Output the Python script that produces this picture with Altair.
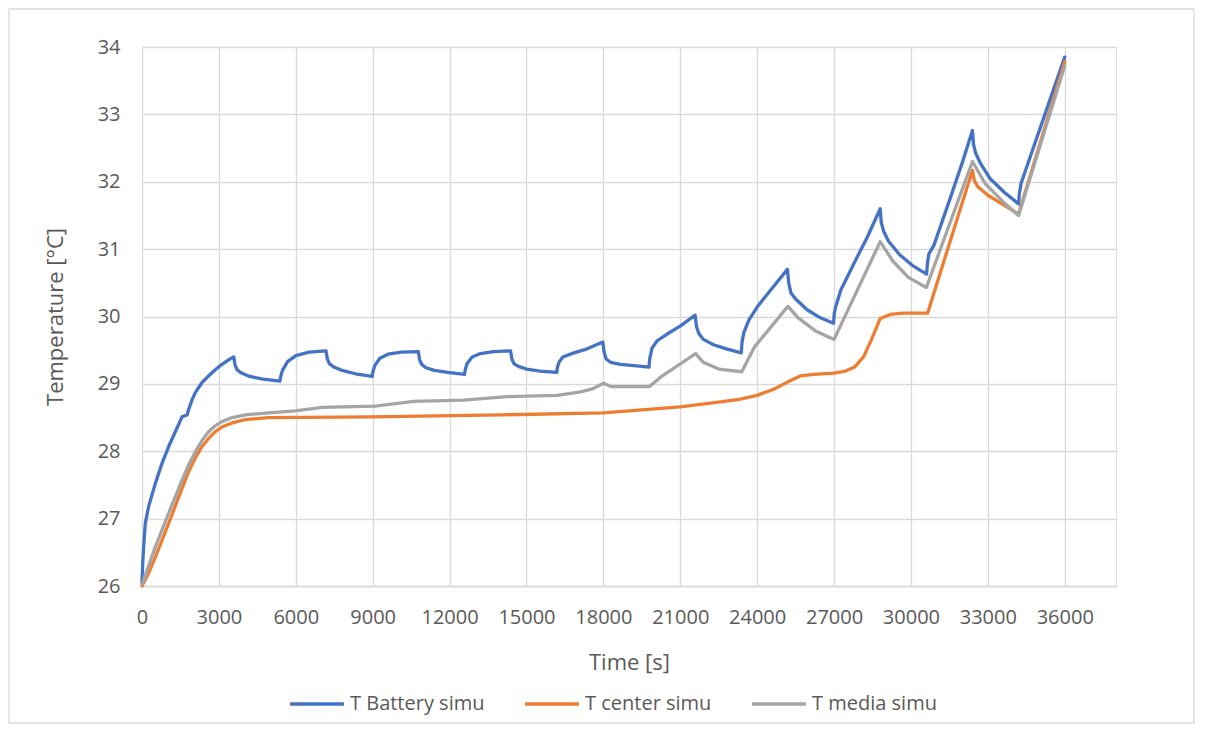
import altair as alt
import pandas as pd

series_names = ["T Battery simu", "T center simu", "T media simu"]
series_colors = ["#4472C4", "#ED7D31", "#A5A5A5"]

battery_t = [0, 30, 63, 129, 258, 519, 780, 1040, 1300, 1561, 1690, 1760, 1820, 1950, 2080, 2340, 2600, 2860,
             3120, 3350, 3580,
             3630, 3710, 3880, 4200, 4730, 5380,
             5410, 5480, 5680, 6000, 6520, 7180,
             7230, 7310, 7480, 7800, 8330, 8980,
             9010, 9080, 9280, 9600, 10120, 10780,
             10830, 10910, 11080, 11400, 11930, 12580,
             12610, 12680, 12880, 13200, 13720, 14380,
             14430, 14510, 14680, 15000, 15530, 16180,
             16210, 16280, 16420, 16850, 17370, 17980,
             18030, 18110, 18280, 18670, 19200, 19780,
             19810, 19900, 20100, 20490, 21010, 21580,
             21630, 21720, 21900, 22300, 22800, 23380,
             23410, 23480, 23680, 24000, 24520, 25180,
             25230, 25320, 25500, 25950, 26470, 26980,
             27010, 27060, 27260, 27780, 28300, 28800,
             28840, 28930, 29120, 29550, 30050, 30610,
             30640, 30700, 30900, 31500, 32000, 32400,
             32440, 32520, 32700, 33100, 33650, 34200,
             34230, 34300, 34500, 35200, 36000]
battery_T = [26.05, 26.35, 26.58, 26.93, 27.18, 27.52, 27.82, 28.07, 28.29, 28.51, 28.53, 28.54, 28.62, 28.76,
             28.87, 29.02, 29.12, 29.21, 29.29, 29.35, 29.40,
             29.28, 29.21, 29.16, 29.11, 29.07, 29.04,
             29.11, 29.20, 29.33, 29.42, 29.47, 29.49,
             29.37, 29.30, 29.25, 29.20, 29.15, 29.11,
             29.18, 29.27, 29.38, 29.44, 29.47, 29.48,
             29.36, 29.29, 29.24, 29.20, 29.17, 29.14,
             29.21, 29.30, 29.40, 29.45, 29.48, 29.49,
             29.37, 29.30, 29.26, 29.22, 29.19, 29.17,
             29.25, 29.33, 29.40, 29.46, 29.52, 29.62,
             29.47, 29.37, 29.32, 29.29, 29.27, 29.25,
             29.38, 29.53, 29.64, 29.74, 29.86, 30.02,
             29.86, 29.75, 29.66, 29.58, 29.52, 29.46,
             29.62, 29.76, 29.95, 30.14, 30.39, 30.70,
             30.50, 30.35, 30.26, 30.10, 29.98, 29.90,
             30.05, 30.14, 30.39, 30.79, 31.18, 31.60,
             31.40, 31.27, 31.12, 30.92, 30.76, 30.63,
             30.78, 30.93, 31.06, 31.72, 32.28, 32.76,
             32.56, 32.43, 32.28, 32.04, 31.84, 31.67,
             31.83, 31.98, 32.20, 32.97, 33.85]

center_t = [0, 258, 520, 1040, 1561, 1822, 2080, 2342, 2600, 2861, 3120, 3513, 4032, 4940, 9000, 14000,
            18000, 19000, 21000, 22500, 23300, 24000, 24650, 25200, 25700, 26200, 27000, 27450, 27800, 28150,
            28450, 28800, 29200, 29700, 30650, 32400, 32470, 32600, 33000, 33600, 34200, 36000]
center_T = [26.00, 26.19, 26.43, 26.93, 27.45, 27.70, 27.90, 28.07, 28.19, 28.29, 28.36, 28.42, 28.47, 28.50,
            28.51, 28.54, 28.57, 28.60, 28.66, 28.73, 28.77, 28.83, 28.92, 29.03, 29.12, 29.14, 29.16, 29.19,
            29.25, 29.40, 29.65, 29.97, 30.03, 30.05, 30.05, 32.17, 32.02, 31.93, 31.80, 31.66, 31.52, 33.78]

media_t = [0, 258, 520, 1040, 1560, 1822, 2080, 2342, 2600, 2861, 3120, 3513, 4032, 4940, 5980, 7030, 9100,
           10600, 12550, 14250, 16200, 17110, 17600, 18000, 18300, 19800, 20230, 21600, 21900, 22500, 23400,
           23900, 25200, 25600, 26300, 27000, 28800, 29300, 29900, 30600, 32400, 32900, 33600, 34200, 36000]
media_T = [26.02, 26.30, 26.58, 27.08, 27.57, 27.80, 27.99, 28.16, 28.29, 28.38, 28.44, 28.50, 28.54, 28.57,
           28.60, 28.65, 28.67, 28.74, 28.76, 28.81, 28.83, 28.88, 28.93, 29.01, 28.96, 28.96, 29.10, 29.45,
           29.32, 29.22, 29.18, 29.55, 30.15, 29.98, 29.78, 29.66, 31.11, 30.82, 30.58, 30.43, 32.30, 31.97,
           31.70, 31.50, 33.72]

x_ticks = list(range(0, 36001, 3000))
y_ticks = [26, 27, 28, 29, 30, 31, 32, 33, 34]

rows = []
for name, ts, vs in [(series_names[0], battery_t, battery_T),
                     (series_names[1], center_t, center_T),
                     (series_names[2], media_t, media_T)]:
    for i, (t, v) in enumerate(zip(ts, vs)):
        rows.append({"series": name, "time": t, "temp": v, "order": i})
df = pd.DataFrame(rows)

FONT = "Open Sans"
TXT = "#595959"
GRID = "#D9D9D9"

W, H = 974, 539

lines = alt.Chart(df).mark_line(strokeWidth=3.3, strokeJoin="round", strokeCap="round").encode(
    x=alt.X("time:Q", title="Time [s]",
            scale=alt.Scale(domain=[0, 38000], nice=False, zero=True),
            axis=alt.Axis(values=x_ticks, format="d", labelFontSize=20, labelColor=TXT, labelFont=FONT,
                          titleFontSize=22, titleColor=TXT, titleFont=FONT, titleFontWeight="normal",
                          ticks=False, labelPadding=21, titlePadding=25,
                          gridColor=GRID, gridWidth=1.3, domainColor=GRID, domainWidth=1.3,
                          labelFlush=False, labelOverlap=False)),
    y=alt.Y("temp:Q", title="Temperature [°C]",
            scale=alt.Scale(domain=[26, 34], nice=False, zero=False),
            axis=alt.Axis(values=y_ticks, labelFontSize=20, labelColor=TXT, labelFont=FONT,
                          titleFontSize=22, titleColor=TXT, titleFont=FONT, titleFontWeight="normal",
                          ticks=False, labelPadding=22, titlePadding=30,
                          gridColor=GRID, gridWidth=1.3, domain=False)),
    color=alt.Color("series:N",
                    scale=alt.Scale(domain=series_names, range=series_colors),
                    legend=alt.Legend(title=None, orient="none", direction="horizontal",
                                      legendX=146, legendY=628,
                                      symbolType="stroke", symbolStrokeWidth=3.3, symbolSize=2900,
                                      labelFontSize=20, labelFont=FONT, labelColor=TXT,
                                      columnPadding=33, labelOffset=4, symbolOffset=0)),
    order="order:Q",
)

frame = alt.Chart(pd.DataFrame({"k": [0]})).mark_rect(fill=None, stroke=GRID, strokeWidth=1.3).encode(
    x=alt.value(-133), x2=alt.value(1052), y=alt.value(-38), y2=alt.value(676)
)

chart = alt.layer(frame, lines).properties(
    width=W, height=H,
    padding={"left": 134, "top": 39, "right": 80, "bottom": 139},
    autosize=alt.AutoSizeParams(type="none"),
).configure_view(stroke=None).configure(background="white")

chart.save("out.html", embed_options={"renderer": "svg", "actions": False})
